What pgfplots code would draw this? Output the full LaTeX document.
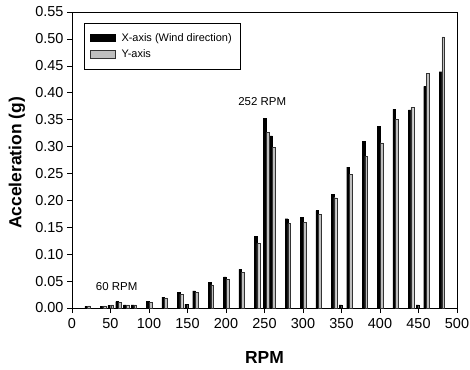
\documentclass[border=0pt]{standalone}
\usepackage{pgfplots}
\pgfplotsset{compat=1.18}
\usepackage{fontspec}
\setmainfont{Liberation Sans}
\usetikzlibrary{calc}
\pgfplotstableread{
rpm val
20 0.003
40 0.003
50 0.005
60 0.012
70 0.006
80 0.006
100 0.012
120 0.020
140 0.029
150 0.007
160 0.032
180 0.048
200 0.058
220 0.072
240 0.133
252 0.353
260 0.320
280 0.166
300 0.169
320 0.181
340 0.211
350 0.006
360 0.262
380 0.310
400 0.338
420 0.369
440 0.368
450 0.006
460 0.412
480 0.439
}\xdata
\pgfplotstableread{
rpm val
20 0.004
40 0.004
50 0.006
60 0.011
70 0.006
80 0.006
100 0.010
120 0.019
140 0.026
160 0.029
180 0.043
200 0.053
220 0.066
240 0.120
252 0.327
260 0.298
280 0.157
300 0.159
320 0.174
340 0.205
360 0.248
380 0.282
400 0.307
420 0.350
440 0.373
460 0.436
480 0.504
}\ydata
\begin{document}
\begin{tikzpicture}
\begin{axis}[
  name=ax,
  scale only axis,
  width=385bp, height=296bp,
  xmin=0, xmax=500, ymin=0, ymax=0.55,
  xtick={0,50,100,150,200,250,300,350,400,450,500},
  ytick={0,0.05,0.1,0.15,0.2,0.25,0.3,0.35,0.4,0.45,0.5,0.55},
  yticklabel style={/pgf/number format/.cd, fixed, fixed zerofill, precision=2},
  /pgf/number format/assume math mode=true,
  tick label style={font=\fontsize{14.5}{17}\selectfont},
  xticklabel style={yshift=-2bp},
  tick align=outside, tick pos=left,
  major tick length=5bp,
  axis line style={line width=0.8pt},
  every tick/.style={black, line width=0.6pt},
  xlabel={RPM},
  ylabel={Acceleration (g)},
  every axis x label/.style={at={(rel axis cs:0.5,0)}, anchor=center, yshift=-49bp,
     font=\fontsize{17.5}{20}\selectfont\bfseries},
  every axis y label/.style={at={(rel axis cs:0,0.5)}, anchor=center, rotate=90, yshift=55bp, xshift=-3bp,
     font=\fontsize{17.5}{20}\selectfont\bfseries},
  legend style={at={(0.031,0.963)}, anchor=north west, draw=black, line width=0.5pt,
     font=\fontsize{11}{13}\selectfont, row sep=3bp, inner xsep=6bp, inner ysep=8bp},
  legend cell align=left,
  legend image code/.code={\draw[#1, line width=0.4pt] (0bp,-3.5bp) rectangle (25bp,4bp); \path (29bp,0bp);},
]
\addplot[ybar, bar width=3.5, bar shift=-1.5, fill=black, draw=black, line width=0.3pt] table[x=rpm, y=val] {\xdata};
\addlegendentry{X-axis (Wind direction)}
\addplot[ybar, bar width=3.5, bar shift=2, fill=gray!50, draw=black!80, line width=0.3pt] table[x=rpm, y=val] {\ydata};
\addlegendentry{Y-axis}
\node[font=\fontsize{11.5}{13}\selectfont] at (axis cs:247,0.383) {252 RPM};
\node[font=\fontsize{11.5}{13}\selectfont] at (axis cs:58,0.039) {60 RPM};
\end{axis}
\pgfresetboundingbox
\path ($(ax.south west)+(-72bp,-61bp)$) rectangle ($(ax.north east)+(13bp,12bp)$);
\end{tikzpicture}
\end{document}
